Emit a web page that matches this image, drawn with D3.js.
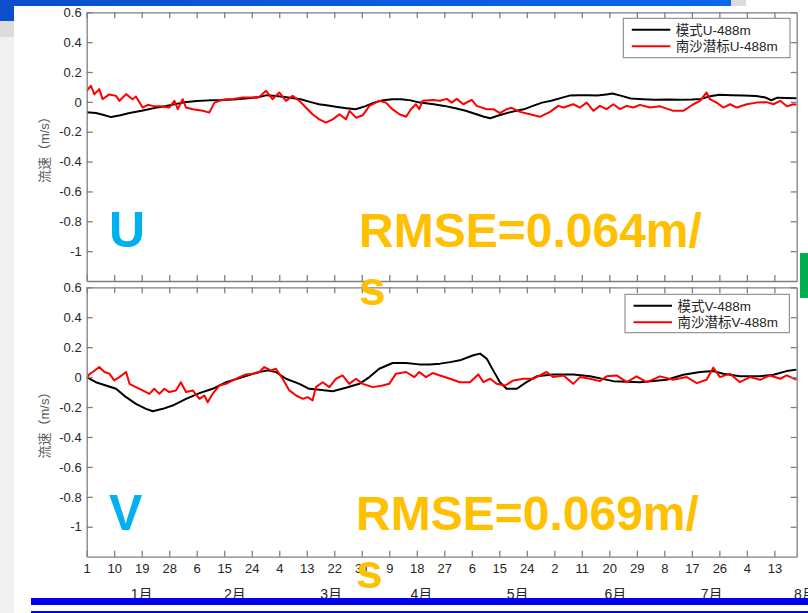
<!DOCTYPE html>
<html>
<head>
<meta charset="utf-8">
<script src="https://cdn.jsdelivr.net/npm/d3@7"></script>
<style>
  body { margin: 0; background: #fff; }
  svg { display: block; font-family: "Liberation Sans", Arial, "Noto Sans CJK SC", sans-serif; }
  .axis path, .axis line { stroke: #7f7f7f; stroke-width: 1.3; }
  .axis text { fill: #262626; font-size: 13px; }
</style>
</head>
<body>
<svg width="808" height="613"></svg>
<script>
// day 0 = Jan 1 (leap year), values in m/s
var xTickDays = [0, 9, 18, 27, 36, 45, 54, 63, 72, 81, 90, 99, 108, 117, 126, 135, 144, 153, 162, 171, 180, 189, 198, 207, 216, 225];
var xTickLabels = ["1", "10", "19", "28", "6", "15", "24", "4", "13", "22", "31", "9", "18", "27", "6", "15", "24", "2", "11", "20", "29", "8", "17", "26", "4", "13"];
var monthLabels = ["1月", "2月", "3月", "4月", "5月", "6月", "7月", "8月"];
var monthLabelDays = [18, 48.5, 80, 109.5, 141, 173, 204.5, 235];
var yTicks = [0.6, 0.4, 0.2, 0, -0.2, -0.4, -0.6, -0.8, -1];
var yTickLabels = ["0.6", "0.4", "0.2", "0", "-0.2", "-0.4", "-0.6", "-0.8", "-1"];

var uModel = [[0,-0.07],[3,-0.075],[5,-0.085],[8,-0.102],[11,-0.09],[14,-0.075],[18,-0.06],[22,-0.042],[26,-0.028],[29,-0.015],[32,-0.002],[36,0.005],[40,0.01],[44,0.012],[48,0.016],[52,0.022],[56,0.03],[59,0.045],[62,0.04],[66,0.03],[70,0.018],[73,0.0],[76,-0.016],[79,-0.025],[82,-0.034],[85,-0.042],[88,-0.049],[91,-0.03],[94,-0.005],[97,0.011],[100,0.018],[103,0.018],[106,0.01],[109,-0.005],[113,-0.015],[117,-0.027],[121,-0.045],[124,-0.06],[127,-0.08],[130,-0.1],[132,-0.11],[135,-0.09],[138,-0.072],[141,-0.058],[143,-0.05],[146,-0.027],[149,-0.005],[152,0.007],[155,0.025],[158,0.042],[161,0.045],[164,0.045],[167,0.042],[170,0.05],[172,0.056],[175,0.04],[178,0.022],[182,0.018],[186,0.015],[190,0.016],[194,0.014],[198,0.016],[201,0.02],[204,0.038],[207,0.047],[211,0.045],[215,0.042],[219,0.04],[222,0.03],[224,0.011],[226,0.028],[229,0.026],[232.3,0.025]];

var uObs = [[0,0.074],[1.4,0.108],[2.5,0.05],[4.1,0.085],[5.2,0.018],[7.4,0.05],[9.6,0.04],[10.7,0.007],[12.9,0.052],[15,0.018],[16.1,0.036],[18.3,-0.038],[20,-0.02],[21.6,-0.027],[24,-0.03],[27,-0.038],[28.7,0.007],[29.8,-0.049],[31.4,0.018],[32.5,-0.038],[34.7,-0.049],[38,-0.06],[40.1,-0.072],[41.8,-0.005],[43.4,0.007],[45.6,0.018],[48,0.02],[51,0.029],[54.3,0.029],[56.5,0.035],[58.7,0.074],[60.8,0.018],[63,0.063],[65.2,0.007],[67.4,0.04],[69.6,0.007],[71.7,-0.038],[73.9,-0.083],[76.1,-0.117],[78.3,-0.139],[80.5,-0.117],[82.7,-0.083],[84.8,-0.117],[86,-0.06],[88.1,-0.106],[90.3,-0.09],[92.5,-0.027],[95.7,0.007],[97.9,-0.005],[100,-0.049],[102.3,-0.083],[104.5,-0.1],[106.1,-0.049],[107.7,-0.016],[108.8,-0.049],[109.9,0.007],[113.2,0.013],[115.6,0.007],[117.8,0.02],[119.4,-0.005],[121.1,0.02],[123.2,-0.016],[126,0.013],[127.6,-0.027],[130.9,-0.049],[133.1,-0.049],[135.2,-0.076],[137.4,-0.049],[139,-0.04],[141.8,-0.067],[145,-0.083],[148.3,-0.1],[151.6,-0.067],[154.3,-0.027],[156,-0.038],[159.2,-0.016],[161.4,-0.038],[163.6,-0.005],[165.8,-0.06],[167.9,-0.027],[170.1,-0.049],[172.3,-0.016],[174.5,-0.049],[176.7,-0.027],[178.9,-0.038],[181,-0.02],[184.3,-0.038],[187.6,-0.03],[191.9,-0.06],[195.2,-0.06],[198.5,-0.016],[200.7,0.007],[202.8,0.063],[203.9,0.018],[206.1,-0.005],[208.3,-0.038],[210.5,-0.016],[212.7,-0.038],[216,-0.016],[219.2,-0.005],[222.5,-0.002],[224.7,-0.016],[226.9,0.007],[229.1,-0.03],[231.2,-0.016],[232.3,-0.02]];

var vModel = [[0,0],[3,-0.034],[6.3,-0.056],[9.6,-0.078],[12.9,-0.134],[16.1,-0.179],[19.4,-0.212],[21.6,-0.228],[24.9,-0.212],[28.1,-0.19],[32.5,-0.145],[36.9,-0.107],[41.2,-0.078],[45.6,-0.034],[51,0],[56.5,0.034],[59.2,0.045],[61.9,0.034],[65.2,-0.011],[69.6,-0.045],[72.8,-0.078],[76.1,-0.085],[80.5,-0.094],[84.8,-0.071],[89.2,-0.045],[92.5,0],[95.7,0.056],[100.1,0.094],[104.5,0.094],[108.8,0.085],[112.1,0.085],[115.6,0.09],[118.9,0.1],[122.1,0.112],[126.5,0.146],[128.7,0.157],[130.9,0.123],[133,0.045],[135.2,-0.034],[137.4,-0.078],[140.7,-0.078],[143.9,-0.034],[147.2,0.005],[152.7,0.018],[159.2,0.018],[164.7,0.005],[172.3,-0.027],[181,-0.034],[189.8,-0.018],[195.2,0.016],[200.7,0.034],[205,0.04],[208.3,0.023],[213.7,0.005],[220.3,0.005],[224.7,0.016],[229,0.04],[232.3,0.05]];

var vObs = [[0,-0.01],[0.9,0.02],[2,0.034],[4.1,0.068],[5.8,0.034],[7.4,0.023],[9,-0.022],[10.7,0],[12.9,0.034],[14,-0.045],[16.1,-0.067],[18.3,-0.089],[20.5,-0.112],[22.1,-0.078],[23.8,-0.112],[25.4,-0.078],[27,-0.1],[29.2,-0.089],[30.8,-0.034],[32.5,-0.1],[34.7,-0.089],[36.9,-0.145],[38.5,-0.123],[39.6,-0.168],[41.2,-0.112],[43.4,-0.056],[45.6,-0.045],[47.8,-0.022],[50,0],[52.1,0.018],[54.3,0.023],[56.5,0.034],[58.1,0.067],[60.3,0.045],[61.9,0.056],[64.1,-0.011],[66.3,-0.089],[68.5,-0.123],[70.7,-0.145],[72.3,-0.134],[73.9,-0.156],[75,-0.067],[77.2,-0.034],[79.4,-0.067],[81.6,-0.011],[83.7,0.011],[85.9,-0.045],[88.1,-0.011],[90.3,-0.045],[93.6,-0.067],[96.8,-0.056],[99,-0.045],[101.2,0.023],[104.5,0.034],[107.2,0],[108.8,0.034],[111,0],[113.2,0.027],[115.6,0.011],[118.9,-0.011],[122.1,-0.034],[125.4,-0.034],[128.1,0.018],[129.8,-0.034],[132,-0.011],[134.1,-0.045],[136.9,-0.056],[139.6,-0.022],[142.9,-0.011],[146.1,-0.011],[150.5,0.034],[152.7,0],[156,0.011],[159.2,-0.045],[161.4,0],[164.7,-0.011],[167.9,-0.027],[170.1,0.005],[173.4,0.011],[176.7,-0.034],[179.9,0.005],[183.2,-0.034],[187.6,0.005],[191.9,-0.018],[196.3,0],[199.6,-0.04],[202.8,-0.018],[205,0.063],[207.2,0],[210.5,0.023],[213.7,-0.034],[217,0],[220.3,-0.018],[223.6,0.011],[226.9,-0.011],[229,0.011],[232.3,-0.018]];

var panels = [
  { top: 12.3, bottom: 281, model: uModel, obs: uObs, names: ["模式U-488m", "南沙潜标U-488m"],
    legend: { x: 623.3, y: 18.3, w: 166.7, h: 39.4 }, letter: "U", rmse: "RMSE=0.064m/", base: 247, rx: 359, labels: false },
  { top: 287.3, bottom: 556.7, model: vModel, obs: vObs, names: ["模式V-488m", "南沙潜标V-488m"],
    legend: { x: 625, y: 294.3, w: 164.3, h: 38.4 }, letter: "V", rmse: "RMSE=0.069m/", base: 530, rx: 356, labels: true }
];

var svg = d3.select("svg");
var left = 86.7, right = 796.7;

// slide decoration
var defs = svg.append("defs");
var grad = defs.append("linearGradient").attr("id", "topbar");
grad.append("stop").attr("offset", "0%").attr("stop-color", "#0b4fcb");
grad.append("stop").attr("offset", "100%").attr("stop-color", "#0a66ee");
svg.append("rect").attr("x", 0).attr("y", 0).attr("width", 14).attr("height", 613).attr("fill", "#f1f1f1");
svg.append("rect").attr("x", 0).attr("y", 21).attr("width", 14).attr("height", 16).attr("fill", "#dcdcdc");
svg.append("rect").attr("x", 0).attr("y", 0).attr("width", 731).attr("height", 6).attr("fill", "url(#topbar)");
svg.append("rect").attr("x", 0).attr("y", 6).attr("width", 14).attr("height", 15).attr("fill", "#0b4fcb");
svg.append("rect").attr("x", 731).attr("y", 0).attr("width", 15).attr("height", 6).attr("fill", "#dcdcdc");
svg.append("rect").attr("x", 800).attr("y", 253).attr("width", 8).attr("height", 45).attr("fill", "#00b050");

var x = d3.scaleLinear().domain([0, 232.3]).range([left, right]);

panels.forEach(function(p, i) {
  var y = d3.scaleLinear().domain([-1.2, 0.6]).range([p.bottom, p.top]);
  var g = svg.append("g");

  g.append("rect").attr("x", left).attr("y", p.top).attr("width", right - left).attr("height", p.bottom - p.top).attr("fill", "#fff");

  var clipId = "clip" + i;
  defs.append("clipPath").attr("id", clipId).append("rect")
      .attr("x", left).attr("y", p.top).attr("width", right - left).attr("height", p.bottom - p.top);

  var line = d3.line().x(function(d) { return x(d[0]); }).y(function(d) { return y(d[1]); });
  var lines = g.append("g").attr("clip-path", "url(#" + clipId + ")");
  lines.append("path").datum(p.model).attr("d", line).attr("fill", "none").attr("stroke", "#000").attr("stroke-width", 2).attr("stroke-linejoin", "round");
  lines.append("path").datum(p.obs).attr("d", line).attr("fill", "none").attr("stroke", "#ff0000").attr("stroke-width", 2).attr("stroke-linejoin", "round");

  // box with inward ticks on all four sides
  g.append("g").attr("class", "axis").attr("transform", "translate(" + left + ",0)")
      .call(d3.axisLeft(y).tickValues(yTicks).tickSize(-6).tickSizeOuter(0).tickPadding(5)
        .tickFormat(function(d, k) { return yTickLabels[k]; }));
  g.append("g").attr("class", "axis").attr("transform", "translate(" + right + ",0)")
      .call(d3.axisRight(y).tickValues(yTicks).tickSize(-6).tickSizeOuter(0).tickFormat(""));
  g.append("g").attr("class", "axis").attr("transform", "translate(0," + p.top + ")")
      .call(d3.axisTop(x).tickValues(xTickDays).tickSize(-6).tickSizeOuter(0).tickFormat(""));
  g.append("g").attr("class", "axis").attr("transform", "translate(0," + p.bottom + ")")
      .call(d3.axisBottom(x).tickValues(xTickDays).tickSize(-6).tickSizeOuter(0).tickPadding(7)
        .tickFormat(function(d, k) { return p.labels ? xTickLabels[k] : ""; }));

  g.append("text")
      .attr("transform", "translate(49," + ((p.top + p.bottom) / 2) + ") rotate(-90)")
      .attr("text-anchor", "middle")
      .attr("fill", "#595959").attr("font-size", 13)
      .text("流速（m/s）");

  // legend
  var lg = g.append("g");
  lg.append("rect").attr("x", p.legend.x).attr("y", p.legend.y).attr("width", p.legend.w).attr("height", p.legend.h)
      .attr("fill", "#fff").attr("stroke", "#7f7f7f").attr("stroke-width", 1);
  [["#000", p.names[0]], ["#ff0000", p.names[1]]].forEach(function(item, k) {
    var ly = p.legend.y + 11.5 + k * 16.5;
    lg.append("line").attr("x1", p.legend.x + 8.5).attr("x2", p.legend.x + 47).attr("y1", ly).attr("y2", ly)
        .attr("stroke", item[0]).attr("stroke-width", 2);
    lg.append("text").attr("x", p.legend.x + 52.5).attr("y", ly + 5).attr("font-size", 13.5).attr("fill", "#262626").text(item[1]);
  });
});

// month labels under the bottom axis
svg.append("g").selectAll("text").data(monthLabels).enter().append("text")
    .attr("x", function(d, k) { return x(monthLabelDays[k]); })
    .attr("y", 599)
    .attr("text-anchor", "middle")
    .attr("font-size", 14).attr("fill", "#262626")
    .text(function(d) { return d; });

// slide footer bars
svg.append("rect").attr("x", 31).attr("y", 598).attr("width", 777).attr("height", 7).attr("fill", "#0000ee");
svg.append("rect").attr("x", 31).attr("y", 611).attr("width", 777).attr("height", 2).attr("fill", "#0000ee");

// overlaid slide text
panels.forEach(function(p) {
  svg.append("text").attr("x", 109).attr("y", p.base).attr("font-size", 50).attr("font-weight", "bold")
      .attr("fill", "#00b0f0").text(p.letter);
  svg.append("text").attr("x", p.rx).attr("y", p.base).attr("font-size", 48).attr("font-weight", "bold")
      .attr("fill", "#ffc000").text(p.rmse);
  svg.append("text").attr("x", p.rx).attr("y", p.base + 58).attr("font-size", 48).attr("font-weight", "bold")
      .attr("fill", "#ffc000").text("s");
});
</script>
</body>
</html>
